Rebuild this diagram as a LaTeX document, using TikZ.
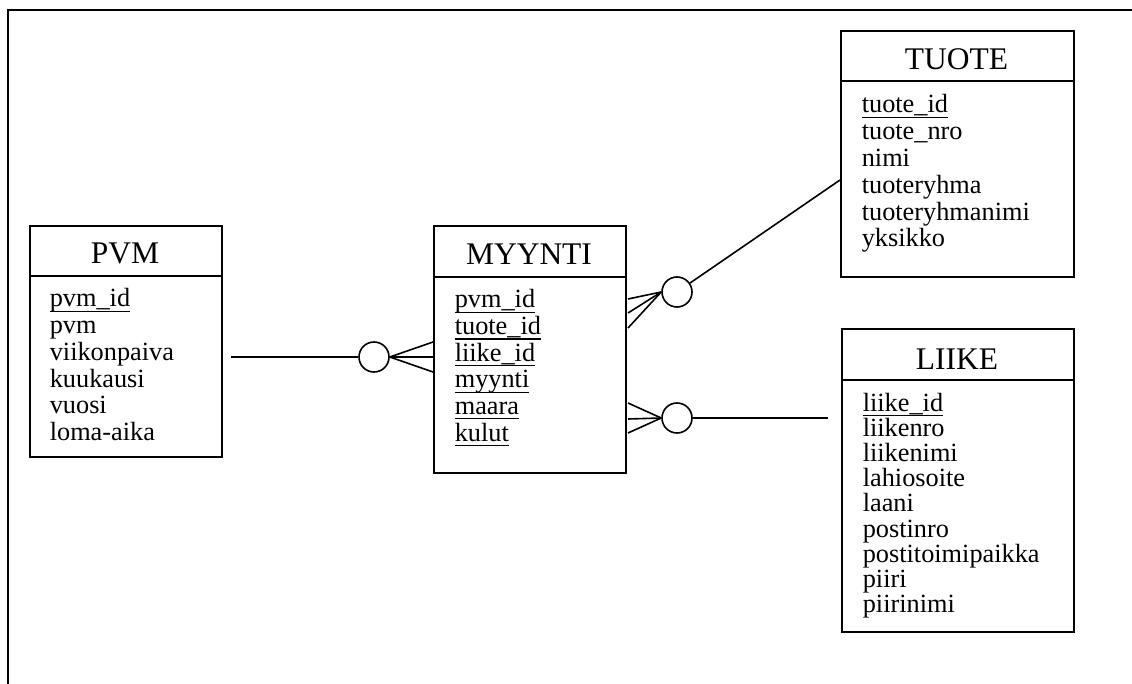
\documentclass[tikz,border=0pt]{standalone}
\usepackage{fontspec}
\setmainfont{Liberation Serif}
\newcommand{\keyattr}[1]{\setbox0=\hbox{#1}\rlap{\rule[-5pt]{\wd0}{1.3pt}}\box0}
\begin{document}
\begin{tikzpicture}[x=1pt,y=-1pt,line width=1.6pt,
  entbox/.style={draw,line width=1.8pt,inner sep=0pt},
  title/.style={anchor=base,inner sep=0pt,font=\fontsize{31.5}{32}\selectfont},
  attr/.style={anchor=base west,inner sep=0pt,font=\fontsize{26.3}{27}\selectfont},
  optcirc/.style={draw,circle,minimum size=30pt,inner sep=0pt,line width=1.6pt},
  conn/.style={line width=1.6pt}]
\useasboundingbox (0,0) rectangle (1132,684);
% outer frame
\coordinate (ftl) at (8,10);
\coordinate (ftr) at (1132,10);
\coordinate (fbl) at (8,684);
\draw[line width=2pt] (fbl) -- (ftl) -- (ftr);

% PVM
\node[entbox,minimum width=192pt,minimum height=231pt,anchor=north west] (pvm) at (29,225) {};
\draw[line width=1.8pt] (29,276) -- (221,276);
\node[title] (pvmt) at (125,264) {PVM};
\node[attr] (p1) at (49,307) {\keyattr{pvm\_id}};
\node[attr] (p2) at (49,333.7) {pvm};
\node[attr] (p3) at (49,360.4) {viikonpaiva};
\node[attr] (p4) at (49,387.1) {kuukausi};
\node[attr] (p5) at (49,413.8) {vuosi};
\node[attr] (p6) at (49,440.5) {loma-aika};

% MYYNTI
\node[entbox,minimum width=192pt,minimum height=247pt,anchor=north west] (myy) at (433,225) {};
\draw[line width=1.8pt] (433,277) -- (625,277);
\node[title] (myyt) at (529,265) {MYYNTI};
\node[attr] (m1) at (454,308) {\keyattr{pvm\_id}};
\node[attr] (m2) at (454,334.6) {\keyattr{tuote\_id}};
\node[attr] (m3) at (454,361.2) {\keyattr{liike\_id}};
\node[attr] (m4) at (454,387.8) {\keyattr{myynti}};
\node[attr] (m5) at (454,414.4) {\keyattr{maara}};
\node[attr] (m6) at (454,441) {\keyattr{kulut}};

% TUOTE
\node[entbox,minimum width=233pt,minimum height=246pt,anchor=north west] (tuo) at (840,30) {};
\draw[line width=1.8pt] (840,81) -- (1073,81);
\node[title] (tuot) at (956.5,70) {TUOTE};
\node[attr] (t1) at (861,113) {\keyattr{tuote\_id}};
\node[attr] (t2) at (861,139.8) {tuote\_nro};
\node[attr] (t3) at (861,166.6) {nimi};
\node[attr] (t4) at (861,193.4) {tuoteryhma};
\node[attr] (t5) at (861,220.2) {tuoteryhmanimi};
\node[attr] (t6) at (861,247) {yksikko};

% LIIKE
\node[entbox,minimum width=232pt,minimum height=303pt,anchor=north west] (lii) at (841,328) {};
\draw[line width=1.8pt] (841,380) -- (1073,380);
\node[title] (liit) at (957,370) {LIIKE};
\node[attr] (l1) at (862,411) {\keyattr{liike\_id}};
\node[attr] (l2) at (862,436.2) {liikenro};
\node[attr] (l3) at (862,461.4) {liikenimi};
\node[attr] (l4) at (862,486.6) {lahiosoite};
\node[attr] (l5) at (862,511.8) {laani};
\node[attr] (l6) at (862,537) {postinro};
\node[attr] (l7) at (862,562.2) {postitoimipaikka};
\node[attr] (l8) at (862,587.4) {piiri};
\node[attr] (l9) at (862,612.6) {piirinimi};

% PVM -- MYYNTI
\node[optcirc] (c1) at (374,357) {};
\coordinate (a1) at (231,357);
\coordinate (f1a) at (433,342);
\coordinate (f1b) at (433,357);
\coordinate (f1c) at (433,372);
\draw[conn] (a1) -- (c1.west);
\draw[conn] (c1.east) -- (f1a);
\draw[conn] (c1.east) -- (f1b);
\draw[conn] (c1.east) -- (f1c);

% MYYNTI -- TUOTE
\node[optcirc] (c2) at (677,292) {};
\coordinate (a2) at (840,180);
\coordinate (f2a) at (628,299);
\coordinate (f2b) at (628,313);
\coordinate (f2c) at (628,328);
\draw[conn] (c2) -- (a2);
\draw[conn] (c2.west) -- (f2a);
\draw[conn] (c2.west) -- (f2b);
\draw[conn] (c2.west) -- (f2c);

% MYYNTI -- LIIKE
\node[optcirc] (c3) at (677,418) {};
\coordinate (a3) at (828,418);
\coordinate (f3a) at (628,403);
\coordinate (f3b) at (628,419);
\coordinate (f3c) at (628,433);
\draw[conn] (c3.east) -- (a3);
\draw[conn] (c3.west) -- (f3a);
\draw[conn] (c3.west) -- (f3b);
\draw[conn] (c3.west) -- (f3c);
\end{tikzpicture}
\end{document}
